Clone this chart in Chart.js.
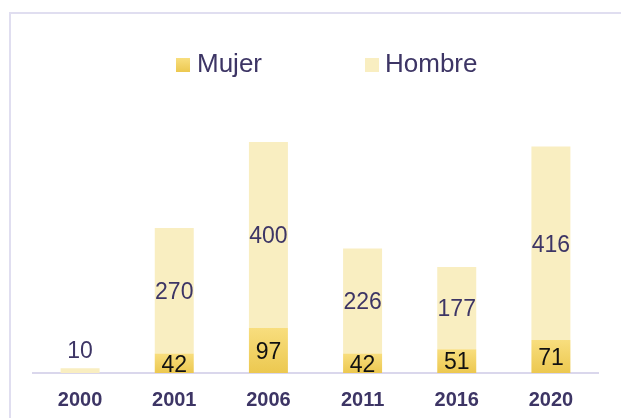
<!DOCTYPE html>
<html>
<head>
<meta charset="utf-8">
<script src="https://cdn.jsdelivr.net/npm/chart.js@4/dist/chart.umd.min.js"></script>
<style>
	body { margin: 0; background: #fff; }
	#wrap { position: relative; width: 621px; height: 418px; overflow: hidden; }
	#frame { position: absolute; left: 9px; top: 12px; width: 700px; height: 500px; border-left: 2px solid #e0def0; border-top: 2px solid #e0def0; }
	#mycanvas { position: absolute; left: 0; top: 0; }
</style>
</head>
<body>
<div id="wrap">
	<div id="frame"></div>
	<canvas id="mycanvas" width="621" height="427"></canvas>
</div>
<script>
var years = ["2000", "2001", "2006", "2011", "2016", "2020"];
var mujer = [0, 42, 97, 42, 51, 71];
var hombre = [10, 270, 400, 226, 177, 416];

var txtColor = "#3d3565";
var fontFam = "'Liberation Sans', Arial, sans-serif";

function mujerFill(ctx, top, bottom) {
	var g = ctx.createLinearGradient(0, top, 0, bottom);
	g.addColorStop(0, "#f8de7e");
	g.addColorStop(1, "#ecc850");
	return g;
}

// value labels inside each segment, above it when the bar is tiny
var barLabels = {
	id: "barLabels",
	afterDatasetsDraw: function(chart) {
		var ctx = chart.ctx;
		ctx.save();
		ctx.font = "23px " + fontFam;
		ctx.textAlign = "center";
		ctx.textBaseline = "middle";
		chart.data.datasets.forEach(function(ds, di) {
			var meta = chart.getDatasetMeta(di);
			meta.data.forEach(function(bar, i) {
				var v = ds.data[i];
				if (!v) return;
				var h = bar.base - bar.y;
				var y = h < 12 ? bar.y - 17 : (bar.y + bar.base) / 2 + 2;
				ctx.fillStyle = di === 0 ? "#111" : txtColor;
				ctx.fillText(v, bar.x, y);
			});
		});
		ctx.restore();
	}
};

// legend drawn by hand so the spacing matches
var legendDraw = {
	id: "legendDraw",
	afterDraw: function(chart) {
		var ctx = chart.ctx;
		ctx.save();
		ctx.font = "26px " + fontFam;
		ctx.textBaseline = "middle";
		var y = 65;
		var x = 176;
		ctx.fillStyle = mujerFill(ctx, y - 7, y + 7);
		ctx.fillRect(x, y - 7, 14, 14);
		ctx.fillStyle = txtColor;
		ctx.fillText(chart.data.datasets[0].label, x + 21, y);
		x = 365;
		ctx.fillStyle = chart.data.datasets[1].backgroundColor;
		ctx.fillRect(x, y - 7, 14, 14);
		ctx.fillStyle = txtColor;
		ctx.fillText(chart.data.datasets[1].label, x + 20, y);
		ctx.restore();
	}
};

var chartdata = {
	labels: years,
	datasets: [
		{
			label: "Mujer",
			data: mujer,
			backgroundColor: function(c) {
				var chart = c.chart;
				if (!chart.chartArea || c.raw === undefined) return "#f3d46a";
				var ys = chart.scales.y;
				var base = ys.getPixelForValue(0);
				var top = ys.getPixelForValue(c.raw || 0);
				if (base - top < 1) return "#f3d46a";
				return mujerFill(chart.ctx, top, base);
			}
		},
		{
			label: "Hombre",
			data: hombre,
			backgroundColor: "#f9eec1"
		}
	]
};

new Chart(document.getElementById("mycanvas"), {
	type: "bar",
	data: chartdata,
	options: {
		responsive: false,
		animation: false,
		devicePixelRatio: 1,
		layout: { padding: { top: 94, bottom: 0, left: 33, right: 23 } },
		datasets: { bar: { barPercentage: 1, categoryPercentage: 0.414 } },
		plugins: { legend: { display: false }, tooltip: { enabled: false } },
		scales: {
			x: {
				stacked: true,
				grid: { display: false, drawTicks: false },
				border: { display: true, color: "#dad7ec", width: 2 },
				ticks: { color: txtColor, padding: 15, font: { size: 20, weight: "bold", family: fontFam } }
			},
			y: {
				stacked: true,
				display: false,
				min: 0,
				max: 600
			}
		}
	},
	plugins: [barLabels, legendDraw]
});
</script>
</body>
</html>
